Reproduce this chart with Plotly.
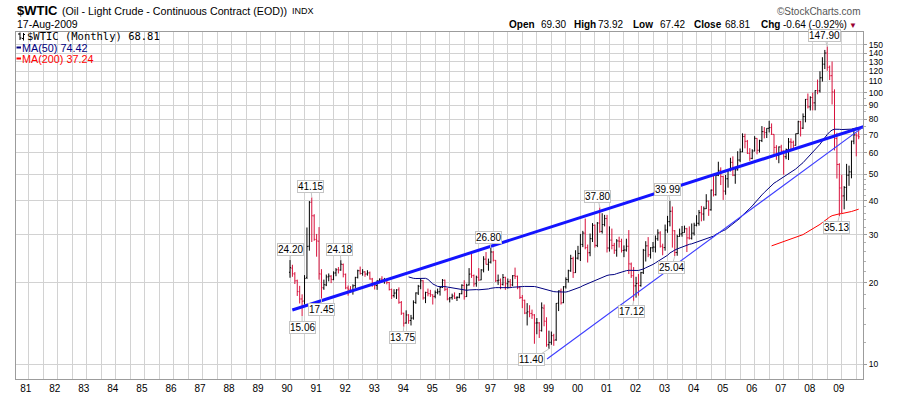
import numpy as np
import pandas as pd
import plotly.graph_objects as go

# ---------------- data (monthly bars, Jan 1990 .. Aug 2009) ----------------
start_year = 1990

open_px = [
    21.82, 22.60, 21.50, 20.30, 18.50, 17.40, 17.10, 20.90, 27.20, 39.50, 35.20, 28.80,   # 1990
    28.40, 21.50, 19.10, 19.60, 21.00, 21.10, 20.50, 21.70, 22.30, 22.25, 23.30, 21.40,   # 1991
    19.10, 18.90, 18.65, 19.50, 20.90, 22.10, 21.60, 21.90, 21.50, 21.70, 20.60, 19.90,   # 1992
    19.50, 20.30, 20.60, 20.40, 20.50, 20.00, 18.85, 17.90, 18.30, 18.80, 16.90, 15.40,   # 1993
    14.20, 15.20, 14.50, 14.80, 16.90, 18.30, 19.40, 20.30, 17.55, 18.40, 18.20, 18.00,   # 1994
    17.80, 18.40, 18.50, 19.20, 20.40, 18.90, 17.40, 17.60, 17.85, 17.55, 17.65, 18.20,   # 1995
    19.50, 17.75, 19.60, 21.50, 21.20, 19.80, 20.90, 20.45, 22.25, 24.40, 23.35, 23.80,   # 1996
    25.90, 24.15, 20.30, 20.40, 19.70, 20.90, 19.80, 20.15, 19.60, 21.20, 21.10, 19.15,   # 1997
    17.60, 17.20, 15.45, 15.60, 15.40, 15.20, 14.20, 14.20, 13.30, 16.10, 14.40, 11.80,   # 1998
    12.05, 12.75, 12.30, 16.80, 18.60, 16.85, 19.30, 20.50, 22.10, 24.50, 21.75, 24.60,   # 1999
    25.60, 27.60, 30.40, 26.90, 25.75, 29.00, 32.50, 27.40, 33.10, 30.85, 32.70, 34.40,   # 2000
    26.80, 28.65, 27.40, 26.30, 28.45, 28.35, 26.25, 26.35, 27.20, 23.40, 21.20, 19.45,   # 2001
    19.85, 19.50, 21.75, 26.30, 27.30, 25.30, 26.85, 27.00, 29.00, 30.45, 27.20, 26.90,   # 2002
    31.20, 33.50, 36.60, 31.00, 25.80, 29.55, 30.20, 30.55, 31.55, 29.20, 29.10, 30.40,   # 2003
    32.50, 33.05, 36.15, 35.75, 37.40, 39.90, 37.05, 43.80, 42.10, 49.60, 51.75, 49.10,   # 2004
    43.40, 48.20, 51.75, 55.40, 49.70, 52.00, 56.50, 60.60, 68.95, 66.25, 59.75, 57.30,   # 2005
    61.00, 67.90, 61.40, 66.60, 71.90, 71.30, 73.95, 74.40, 70.25, 62.90, 58.70, 63.10,   # 2006
    61.05, 58.10, 61.80, 65.90, 65.70, 64.00, 70.70, 78.20, 74.05, 81.65, 94.50, 88.70,   # 2007
    96.00, 91.75, 101.80, 101.60, 113.50, 127.40, 140.00, 124.10, 115.50, 100.60, 67.80, 54.40,  # 2008
    44.60, 41.70, 44.80, 49.70, 51.10, 66.30, 69.90, 69.30,                               # 2009
]
high_px = [
    24.20, 23.25, 21.85, 20.50, 19.45, 18.10, 21.30, 31.90, 39.90, 41.15, 35.70, 30.20,
    32.00, 22.40, 20.50, 21.40, 21.60, 21.30, 22.00, 22.60, 22.80, 24.18, 23.50, 21.60,
    19.50, 19.40, 19.70, 21.00, 22.30, 22.90, 22.40, 22.00, 22.20, 21.95, 20.80, 20.10,
    20.40, 20.70, 21.10, 20.80, 20.65, 20.10, 19.00, 18.90, 18.90, 19.20, 17.10, 15.50,
    15.80, 15.30, 15.20, 17.20, 18.40, 19.60, 20.70, 20.40, 18.50, 19.00, 18.80, 18.10,
    18.70, 19.00, 19.30, 20.60, 20.50, 19.10, 17.70, 18.20, 18.40, 17.80, 18.30, 19.70,
    20.40, 19.80, 22.60, 25.80, 21.40, 21.20, 22.60, 22.40, 25.00, 25.90, 24.50, 26.80,
    26.10, 24.20, 21.40, 20.70, 21.50, 21.00, 20.70, 20.60, 21.30, 22.70, 21.20, 19.40,
    18.00, 17.30, 16.80, 16.50, 15.90, 15.30, 14.80, 14.30, 16.90, 16.60, 14.90, 13.30,
    13.20, 12.95, 16.80, 18.70, 19.00, 19.40, 20.90, 22.30, 25.30, 24.90, 26.30, 27.30,
    30.20, 31.00, 34.40, 27.60, 30.30, 33.10, 32.70, 33.40, 37.80, 36.00, 35.50, 35.50,
    32.20, 31.60, 28.00, 28.90, 29.50, 29.00, 27.40, 29.00, 31.20, 23.70, 22.80, 21.00,
    21.50, 21.90, 26.60, 28.40, 29.40, 27.00, 28.20, 29.80, 31.40, 30.90, 27.80, 32.70,
    35.20, 39.99, 38.10, 31.20, 30.00, 31.60, 32.30, 32.40, 31.80, 32.20, 33.00, 33.20,
    35.40, 37.00, 38.30, 38.10, 42.30, 40.00, 44.00, 49.40, 50.50, 55.70, 53.10, 49.50,
    49.80, 52.00, 57.60, 58.30, 53.20, 60.90, 62.30, 70.85, 70.60, 67.00, 62.50, 61.90,
    69.20, 68.00, 67.10, 75.35, 74.70, 74.00, 78.80, 77.05, 70.30, 64.10, 63.40, 64.30,
    61.30, 62.30, 68.10, 67.90, 66.60, 70.70, 78.80, 78.80, 83.90, 94.80, 99.30, 97.00,
    100.10, 102.10, 111.80, 119.90, 135.10, 143.70, 147.90, 125.90, 130.30, 102.90, 71.20, 55.00,
    49.90, 45.30, 54.70, 53.90, 66.60, 73.40, 71.00, 73.92,
]
low_px = [
    20.83, 21.00, 19.75, 17.85, 16.75, 15.06, 16.60, 20.60, 26.20, 28.20, 28.50, 24.90,
    20.50, 17.45, 18.80, 19.40, 20.20, 19.90, 20.40, 21.10, 21.60, 22.10, 20.90, 18.90,
    17.90, 18.40, 18.05, 19.10, 20.70, 21.40, 21.20, 21.00, 21.20, 20.50, 19.30, 18.85,
    18.80, 19.90, 20.00, 19.80, 19.70, 18.70, 17.40, 17.60, 17.40, 16.70, 15.20, 13.75,
    14.10, 14.10, 13.90, 14.60, 16.70, 18.00, 18.90, 17.30, 16.80, 17.80, 17.70, 16.60,
    17.50, 18.10, 17.90, 19.10, 18.60, 17.20, 16.90, 17.30, 17.40, 17.10, 17.50, 18.10,
    17.30, 17.70, 19.50, 20.80, 19.30, 19.30, 20.30, 20.40, 21.80, 23.30, 22.10, 23.50,
    23.90, 20.10, 19.60, 18.90, 19.50, 18.80, 19.00, 19.10, 19.40, 20.60, 18.90, 17.40,
    16.10, 15.30, 13.90, 14.90, 14.70, 11.90, 12.90, 12.50, 13.20, 13.80, 11.60, 11.40,
    11.80, 11.70, 12.20, 15.70, 16.60, 16.80, 19.00, 20.00, 21.90, 20.80, 21.70, 24.30,
    24.00, 27.00, 26.50, 23.70, 25.00, 28.20, 26.90, 27.00, 30.50, 30.30, 32.20, 25.80,
    26.00, 26.50, 25.50, 24.90, 26.90, 25.80, 24.80, 26.00, 21.50, 20.80, 17.12, 17.60,
    17.90, 19.30, 21.50, 23.90, 24.80, 24.50, 25.90, 25.80, 28.50, 26.90, 25.20, 26.20,
    30.50, 32.20, 26.90, 25.04, 25.10, 29.50, 29.50, 30.50, 25.90, 28.80, 28.80, 29.80,
    32.20, 32.40, 33.60, 33.80, 37.30, 35.20, 36.80, 41.50, 41.80, 49.30, 45.70, 40.30,
    42.10, 44.70, 51.30, 49.30, 46.20, 51.70, 55.50, 60.40, 62.40, 59.50, 56.10, 56.90,
    60.80, 59.30, 60.20, 65.80, 67.90, 68.10, 71.40, 69.90, 59.50, 56.60, 55.00, 60.20,
    49.90, 56.90, 56.50, 61.90, 61.40, 63.90, 70.40, 69.00, 73.50, 77.80, 87.50, 86.00,
    86.10, 86.10, 98.70, 100.10, 109.90, 122.20, 120.40, 111.30, 90.50, 61.30, 48.30, 35.13,
    36.00, 37.20, 40.00, 45.40, 48.40, 64.60, 58.30, 67.42,
]
close_px = [
    22.68, 21.54, 20.28, 18.54, 17.40, 17.07, 20.69, 27.17, 39.51, 35.23, 28.85, 28.44,
    21.54, 19.16, 19.63, 20.96, 21.13, 20.56, 21.68, 22.26, 22.23, 23.37, 21.48, 19.12,
    18.90, 18.68, 19.44, 20.85, 22.11, 21.60, 21.87, 21.48, 21.71, 20.62, 19.89, 19.50,
    20.26, 20.60, 20.44, 20.53, 20.02, 18.85, 17.88, 18.29, 18.79, 16.92, 15.43, 14.17,
    15.19, 14.48, 14.79, 16.90, 18.31, 19.37, 20.30, 17.56, 18.39, 18.19, 18.05, 17.76,
    18.39, 18.49, 19.17, 20.38, 18.89, 17.40, 17.56, 17.84, 17.54, 17.64, 18.18, 19.55,
    17.74, 19.54, 21.47, 21.20, 19.76, 20.92, 20.42, 22.25, 24.38, 23.35, 23.75, 25.92,
    24.15, 20.30, 20.41, 19.71, 20.88, 19.80, 20.14, 19.61, 21.18, 21.08, 19.15, 17.64,
    17.21, 15.44, 15.61, 15.39, 15.20, 14.18, 14.21, 13.34, 16.14, 14.42, 11.80, 12.05,
    12.75, 12.27, 16.76, 18.66, 16.84, 19.29, 20.53, 22.10, 24.51, 21.75, 24.59, 25.60,
    27.64, 30.43, 26.90, 25.74, 29.01, 32.50, 27.43, 33.12, 30.84, 32.70, 34.40, 26.80,
    28.66, 27.39, 26.29, 28.46, 28.37, 26.25, 26.35, 27.20, 23.43, 21.18, 19.44, 19.84,
    19.48, 21.74, 26.31, 27.29, 25.31, 26.86, 27.02, 28.98, 30.45, 27.22, 26.89, 31.20,
    33.51, 36.60, 31.04, 25.80, 29.56, 30.19, 30.54, 31.57, 29.20, 29.11, 30.41, 32.52,
    33.05, 36.16, 35.76, 37.38, 39.88, 37.05, 43.80, 42.12, 49.64, 51.76, 49.13, 43.45,
    48.20, 51.75, 55.40, 49.72, 51.97, 56.50, 60.57, 68.94, 66.24, 59.76, 57.32, 61.04,
    67.92, 61.41, 66.63, 71.88, 71.29, 73.93, 74.40, 70.26, 62.91, 58.73, 63.13, 61.05,
    58.14, 61.79, 65.87, 65.71, 64.01, 70.68, 78.21, 74.04, 81.66, 94.53, 88.71, 95.98,
    91.75, 101.84, 101.58, 113.46, 127.35, 140.00, 124.08, 115.46, 100.64, 67.81, 54.43, 44.60,
    41.68, 44.76, 49.66, 51.12, 66.31, 69.89, 69.45, 68.81,
]

# labelled highs / lows: (bar index, 'H' or 'L')
mark_index = [0, 5, 9, 13, 21, 47, 83, 107, 128, 142, 157, 159, 222, 227]
mark_kind = ['H', 'L', 'H', 'L', 'H', 'L', 'H', 'L', 'H', 'L', 'H', 'L', 'H', 'L']
mark_dx = [0, 0, -1, 0, -1, -1, -2, -17, -2, -2, -2, -3, -3, -3]

# hand-drawn trend lines (decimal year, price)
trend_thick_x = [1990.08, 2009.83]
trend_thick_y = [15.85, 75.4]
trend_thin_x = [1998.85, 2009.83]
trend_thin_y = [10.46, 76.0]

year_ticks = list(range(1981, 2010))
year_labels = ["81", "82", "83", "84", "85", "86", "87", "88", "89", "90", "91", "92", "93", "94",
               "95", "96", "97", "98", "99", "00", "01", "02", "03", "04", "05", "06", "07", "08", "09"]
price_ticks = [10, 20, 30, 40, 50, 60, 70, 80, 90, 100, 110, 120, 130, 140, 150]
price_minor = [12, 14, 16, 18, 22, 24, 26, 28, 32, 34, 36, 38, 42, 44, 46, 48, 55, 65, 75, 85, 95]

header_labels = ["Open", "High", "Low", "Close", "Chg"]
header_values = ["69.30", "73.92", "67.42", "68.81", "-0.64 (-0.92%)"]

# ---------------- derived ----------------
n = len(close_px)
dates = [start_year + i / 12.0 for i in range(n)]
close_s = pd.Series(close_px)
ma50 = close_s.rolling(50).mean()
ma200 = close_s.rolling(200).mean()

# ---------------- style ----------------
W, H = 900, 396
PL, PR, PT, PB = 16, 863, 32, 379
GRID = "#d2d2d2"
BORDER = "#9c9c9c"
RED_BAR = "#d8123c"
FONT = "Liberation Sans"


def fx(p):
    return (p - PL) / (PR - PL)


def fy(p):
    return (PB - p) / (PB - PT)


fig = go.Figure()

fig.add_trace(go.Ohlc(
    x=dates, open=open_px, high=high_px, low=low_px, close=close_px,
    increasing=dict(line=dict(color="#000000", width=1)),
    decreasing=dict(line=dict(color=RED_BAR, width=1)),
    tickwidth=0.42, hoverinfo="skip", showlegend=False,
))
fig.add_trace(go.Scatter(x=dates, y=ma50, mode="lines",
                         line=dict(color="#000080", width=1), hoverinfo="skip"))
fig.add_trace(go.Scatter(x=dates, y=ma200, mode="lines",
                         line=dict(color="#ff0000", width=1), hoverinfo="skip"))
fig.add_trace(go.Scatter(x=trend_thick_x, y=trend_thick_y, mode="lines",
                         line=dict(color="#1414ff", width=3), hoverinfo="skip"))
fig.add_trace(go.Scatter(x=trend_thin_x, y=trend_thin_y, mode="lines",
                         line=dict(color="#3c3cff", width=1.1), hoverinfo="skip"))

x_lo = 1990 - (290 - PL) / 29.04
x_hi = 1990 + (PR - 290) / 29.04
y_lo = 1 - (PB - 364.3) / 271.6
y_hi = 1 + (364.3 - PT) / 271.6

annotations = []

# value labels
for idx, kind, dx in zip(mark_index, mark_kind, mark_dx):
    v = high_px[idx] if kind == "H" else low_px[idx]
    annotations.append(dict(
        x=dates[idx], y=np.log10(v), xref="x", yref="y",
        text=f"{v:.2f}", showarrow=True, arrowhead=0, arrowwidth=1,
        arrowcolor="#c4c4c4", ax=dx, ay=-11 if kind == "H" else 11, standoff=0,
        font=dict(family=FONT, size=10, color="#000000"),
        bgcolor="#ffffff", bordercolor="#c4c4c4", borderwidth=1, borderpad=0,
    ))


def text_ann(txt, xp, yp, size, color="#000000", family=FONT, xanchor="left"):
    annotations.append(dict(
        x=fx(xp), y=fy(yp), xref="paper", yref="paper", text=txt, showarrow=False,
        xanchor=xanchor, yanchor="middle", borderpad=0,
        font=dict(family=family, size=size, color=color),
    ))


# header
text_ann("<b>$WTIC</b>", 15.5, 10.5, 13)
text_ann("(Oil - Light Crude - Continuous Contract (EOD))", 60.5, 11, 10.7)
text_ann("INDX", 291, 11.5, 9)
text_ann("17-Aug-2009", 15.5, 24, 10.5)
text_ann("\u00a9StockCharts.com", 862, 11, 10, color="#555555", xanchor="right")

label_x = [507.5, 572.5, 632, 693, 759.5]
value_x = [540, 596.5, 659, 724, 781.5]
for lab, val, xl, xv in zip(header_labels, header_values, label_x, value_x):
    text_ann(f"<b>{lab}</b>", xl, 24, 10)
    text_ann(val, xv, 24.3, 10)
text_ann("\u25bc", 847.5, 25, 8, color="#990033")

# legend inside plot
text_ann("$WTIC (Monthly) 68.81", 26, 36, 10.5, family="DejaVu Sans Mono")
text_ann("MA(50) 74.42", 21, 47.5, 10.8, color="#000080")
text_ann("MA(200) 37.24", 21, 58.5, 10.8, color="#ff0000")

shapes = [
    dict(type="line", xref="paper", yref="paper", x0=fx(16.5), x1=fx(21), y0=fy(47.5), y1=fy(47.5),
         line=dict(color="#000080", width=2)),
    dict(type="line", xref="paper", yref="paper", x0=fx(16.5), x1=fx(21), y0=fy(58.5), y1=fy(58.5),
         line=dict(color="#ff0000", width=2)),
    # small OHLC icon
    dict(type="line", xref="paper", yref="paper", x0=fx(20), x1=fx(20), y0=fy(32.5), y1=fy(40),
         line=dict(color="#000000", width=1)),
    dict(type="line", xref="paper", yref="paper", x0=fx(18), x1=fx(20), y0=fy(34), y1=fy(34),
         line=dict(color="#000000", width=1)),
    dict(type="line", xref="paper", yref="paper", x0=fx(20), x1=fx(21.5), y0=fy(38), y1=fy(38),
         line=dict(color="#000000", width=1)),
    dict(type="line", xref="paper", yref="paper", x0=fx(23.5), x1=fx(23.5), y0=fy(33), y1=fy(40.5),
         line=dict(color="#000000", width=1)),
    dict(type="line", xref="paper", yref="paper", x0=fx(22), x1=fx(23.5), y0=fy(38.5), y1=fy(38.5),
         line=dict(color="#000000", width=1)),
    dict(type="line", xref="paper", yref="paper", x0=fx(23.5), x1=fx(25), y0=fy(34.5), y1=fy(34.5),
         line=dict(color="#000000", width=1)),
]

half_years = [y + h for y in year_ticks for h in (0.0, 0.5)]

fig.update_layout(
    width=W, height=H,
    margin=dict(l=PL, r=W - PR, t=PT, b=H - PB, pad=0, autoexpand=False),
    paper_bgcolor="#ffffff", plot_bgcolor="#ffffff",
    showlegend=False, hovermode=False,
    annotations=annotations, shapes=shapes,
    xaxis=dict(
        range=[x_lo, x_hi], tickmode="array", automargin=False,
        tickvals=[y - 0.1 for y in year_ticks], ticktext=year_labels,
        showgrid=False, zeroline=False, ticks="",
        tickfont=dict(family=FONT, size=10, color="#000000"),
        showline=True, mirror=True, linecolor=BORDER, linewidth=1,
        rangeslider=dict(visible=False),
        minor=dict(tickmode="array", tickvals=half_years, showgrid=True,
                   gridcolor=GRID, gridwidth=1, ticks=""),
    ),
    yaxis=dict(
        type="log", side="right", range=[y_lo, y_hi], tickmode="array", automargin=False,
        tickvals=price_ticks, ticktext=[str(t) for t in price_ticks],
        showgrid=True, gridcolor=GRID, gridwidth=1, zeroline=False,
        ticks="outside", ticklen=3, tickcolor=BORDER,
        tickfont=dict(family=FONT, size=8.5, color="#000000"),
        showline=True, mirror=True, linecolor=BORDER, linewidth=1,
        minor=dict(tickmode="array", tickvals=price_minor, ticks="outside",
                   ticklen=2, tickcolor="#b0b0b0", showgrid=False),
    ),
)

fig.write_html("out.html", config={"displayModeBar": False},
               post_script="document.body.style.margin='0px';document.body.style.overflow='hidden';")
